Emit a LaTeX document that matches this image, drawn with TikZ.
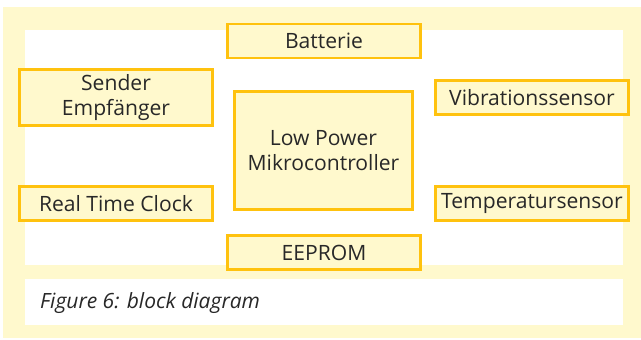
\documentclass[tikz,border=0pt]{standalone}
\usepackage{fontspec}
\setmainfont{Open Sans}
\usepackage{xcolor}
\usetikzlibrary{positioning}
\definecolor{cPanel}{RGB}{255,249,205}
\definecolor{cBorder}{RGB}{255,194,14}
\definecolor{cFill}{RGB}{255,249,205}
\definecolor{cText}{RGB}{40,40,40}
\tikzset{
	block/.style={rectangle, draw=cBorder, line width=2.6pt, fill=cFill, text=cText, align=center, font=\fontsize{21.1}{25}\selectfont, minimum width=193.4pt, minimum height=34pt, inner sep=0pt},
	caption/.style={anchor=west, text=cText, font=\fontsize{21}{24}\selectfont\itshape, inner sep=0pt},
}
\begin{document}
\begin{tikzpicture}[x=1pt, y=-1pt]
	\useasboundingbox (0,0) rectangle (641,340);
	% panels
	\fill[cPanel] (3,7) rectangle (641,338);
	\fill[white] (25,30) rectangle (623,265);
	\fill[white] (25,279) rectangle (623,325);
	% blocks
	\node[block] (batt) at (324,41) {Batterie};
	\node[block, minimum height=56.4pt] (radio) at (116,97.5) {Sender\\Empf\"anger};
	\node[block, minimum width=178.4pt, minimum height=118.4pt] (mcu) at (323.5,150.5) {Low Power\\Mikrocontroller};
	\node[block] (vib) at (532,97.5) {Vibrationssensor};
	\node[block] (rtc) at (116,203.5) {Real Time Clock};
	\node[block] (temp) at (532,203.5) {Temperatursensor};
	\node[block] (eeprom) at (324,252.5) {EEPROM};
	% caption
	\node[caption] (cap) at (40,303) {Figure 6: block diagram};
\end{tikzpicture}
\end{document}
